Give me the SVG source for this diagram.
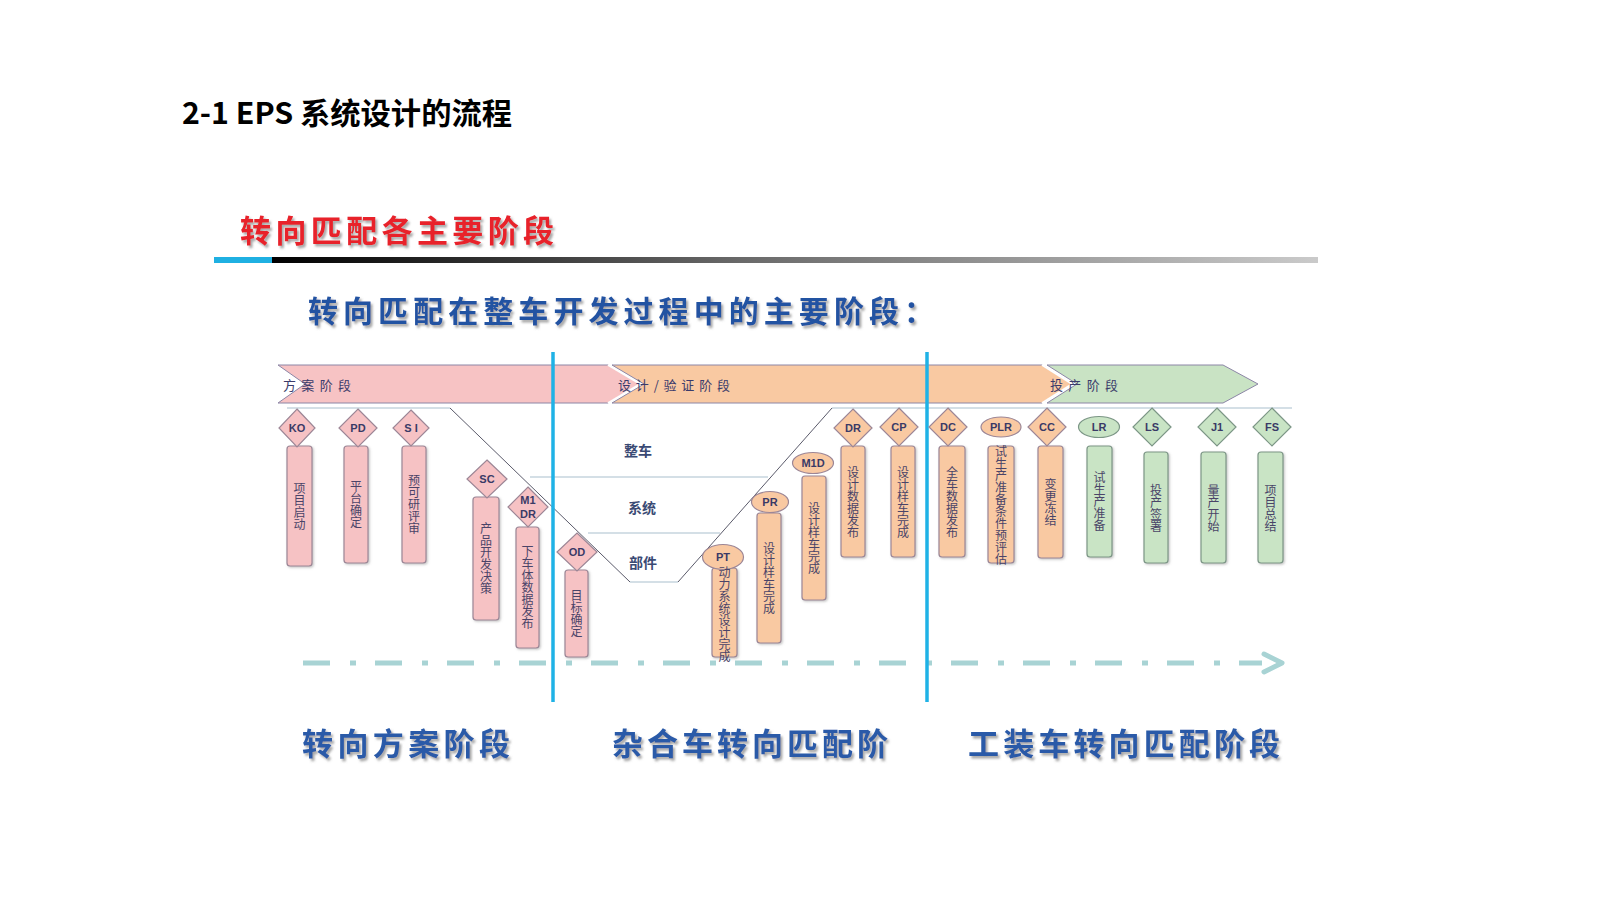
<svg xmlns="http://www.w3.org/2000/svg" width="1600" height="900" viewBox="0 0 1600 900">
<defs>
<linearGradient id="barg" x1="0" y1="0" x2="1" y2="0">
<stop offset="0" stop-color="#000"/>
<stop offset="0.45" stop-color="#6a6a6a"/>
<stop offset="1" stop-color="#cacaca"/>
</linearGradient>
<filter id="sh" x="-5%" y="-20%" width="110%" height="150%">
<feDropShadow dx="2" dy="2.5" stdDeviation="1" flood-color="#777" flood-opacity="0.65"/>
</filter>
<filter id="rs" x="-20%" y="-5%" width="150%" height="115%">
<feDropShadow dx="1.2" dy="1.2" stdDeviation="0.8" flood-color="#888" flood-opacity="0.5"/>
</filter>
</defs>
<style>
.h {font-family:"Noto Sans CJK SC","Noto Sans",sans-serif;font-weight:bold}
.bn {font-family:"Noto Sans CJK SC",sans-serif;font-size:13px;fill:#3b3b6b}
.pk {fill:#f6c2c4;stroke:#9c8696;stroke-width:1.2}
.or {fill:#f9c9a2;stroke:#9c8696;stroke-width:1.2}
.gr {fill:#c9e4c5;stroke:#7c9686;stroke-width:1.2}
.dl {font-family:"Liberation Sans",Arial,sans-serif;font-size:11px;font-weight:bold;fill:#3a3a66;text-anchor:middle;dominant-baseline:central}
.vt {font-family:"Noto Sans CJK SC",sans-serif;font-size:12px;fill:#4a4468;text-anchor:middle;dominant-baseline:central;writing-mode:vertical-rl}
.lv {font-family:"Noto Sans CJK SC",sans-serif;font-size:14px;font-weight:bold;fill:#3a4a74;text-anchor:middle;dominant-baseline:central}
.bl {font-family:"Noto Sans CJK SC",sans-serif;font-size:31px;font-weight:bold;fill:#2a5aa8}
.thin {stroke:#c6d4de;stroke-width:1.5;fill:none}
.dia {stroke:#5a5a6a;stroke-width:1;fill:none}
.vline {stroke:#1fb2e6;stroke-width:3.5}
</style>

<g id="title">
<text class="h" x="182" y="124" font-size="30" fill="#000" textLength="330" lengthAdjust="spacingAndGlyphs">2-1 EPS 系统设计的流程</text>
</g>
<g id="header">
<text class="h" x="240" y="242" font-size="31" fill="#e8202a" filter="url(#sh)" textLength="314" lengthAdjust="spacing">转向匹配各主要阶段</text>
<rect x="214" y="257" width="58" height="6" fill="#1fb0e2"/>
<rect x="272" y="257" width="1046" height="6" fill="url(#barg)"/>
<text class="h" x="308" y="322" font-size="30" fill="#2452a2" filter="url(#sh)" textLength="626" lengthAdjust="spacing">转向匹配在整车开发过程中的主要阶段：</text>
</g>

<g id="banner">
<polygon points="278,365 608,365 640,384 608,403 278,403 305,384" fill="#f7c3c4" stroke="#8c86a6" stroke-width="1"/>
<polygon points="612,365 1042,365 1072,384 1042,403 612,403 644,384" fill="#f9c9a2" stroke="#8c86a6" stroke-width="1"/>
<polyline points="608,365 640,384 608,403" fill="none" stroke="#fff" stroke-width="2"/>
<polygon points="1047,365 1223,365 1258,384 1223,403 1047,403 1077,384" fill="#c9e3c4" stroke="#8c86a6" stroke-width="1"/>
<polyline points="1042,365 1072,384 1042,403" fill="none" stroke="#fff" stroke-width="2"/>
<text class="bn" x="283" y="390" textLength="68" lengthAdjust="spacing">方案阶段</text>
<text class="bn" x="618" y="390" textLength="112" lengthAdjust="spacing">设计/验证阶段</text>
<text class="bn" x="1050" y="390" textLength="68" lengthAdjust="spacing">投产阶段</text>
</g>

<g id="levels">
<line class="thin" x1="287" y1="408" x2="450" y2="408"/>
<line class="thin" x1="832" y1="408" x2="1292" y2="408"/>
<line class="thin" x1="530" y1="477" x2="768" y2="477"/>
<line class="thin" x1="588" y1="533" x2="720" y2="533"/>
<line class="thin" x1="630" y1="582" x2="678" y2="582"/>
<polyline class="dia" points="450,408 630,582"/>
<polyline class="dia" points="678,582 832,408"/>
<text class="lv" x="638" y="450">整车</text>
<text class="lv" x="642" y="507">系统</text>
<text class="lv" x="643" y="562">部件</text>
</g>

<g id="connectors">
<line x1="303" y1="663" x2="1262" y2="663" stroke="#a8d3d4" stroke-width="5" stroke-dasharray="27 20 6 19"/>
<polyline points="1264,654 1282,663 1264,672" fill="none" stroke="#a8d3d4" stroke-width="5" stroke-linejoin="round" stroke-linecap="round"/>
<line class="vline" x1="553" y1="352" x2="553" y2="702"/>
<line class="vline" x1="927" y1="352" x2="927" y2="702"/>
</g>

<g id="n-KO">
<rect class="pk" x="287" y="446" width="25" height="120" rx="3" filter="url(#rs)"/>
<polygon class="pk" points="297,409 315,428 297,447 279,428"/>
<text class="dl" x="297" y="428">KO</text>
<text class="vt" x="299.5" y="506">项目启动</text>
</g>
<g id="n-PD">
<rect class="pk" x="344" y="446" width="24" height="117" rx="3" filter="url(#rs)"/>
<polygon class="pk" points="358,409 377,428 358,447 339,428"/>
<text class="dl" x="358" y="428">PD</text>
<text class="vt" x="356" y="504">平台确定</text>
</g>
<g id="n-SI">
<rect class="pk" x="402" y="446" width="24" height="117" rx="3" filter="url(#rs)"/>
<polygon class="pk" points="411,410 429,428 411,446 393,428"/>
<text class="dl" x="411" y="428">S I</text>
<text class="vt" x="414" y="504">预可研评审</text>
</g>
<g id="n-SC">
<rect class="pk" x="473" y="497" width="26" height="123" rx="3" filter="url(#rs)"/>
<polygon class="pk" points="487,460 507,479 487,498 467,479"/>
<text class="dl" x="487" y="479">SC</text>
<text class="vt" x="486" y="558">产品开发决策</text>
</g>
<g id="n-M1DR">
<rect class="pk" x="516" y="527" width="23" height="121" rx="3" filter="url(#rs)"/>
<polygon class="pk" points="528,487 548,507 528,527 508,507"/>
<text class="dl" x="528" y="500">M1</text>
<text class="dl" x="528" y="514">DR</text>
<text class="vt" x="527.5" y="587">下车体数据发布</text>
</g>
<g id="n-OD">
<rect class="pk" x="565" y="570" width="23" height="87" rx="3" filter="url(#rs)"/>
<polygon class="pk" points="577,533 597,552 577,571 557,552"/>
<text class="dl" x="577" y="552">OD</text>
<text class="vt" x="576.5" y="613">目标确定</text>
</g>
<g id="n-PT">
<rect class="or" x="712" y="568" width="25" height="89" rx="3" filter="url(#rs)"/>
<ellipse class="or" cx="723" cy="557" rx="20.5" ry="12.5"/>
<text class="dl" x="723" y="557" font-weight="normal">PT</text>
<text class="vt" x="724.5" y="614" font-size="11.8">动力系统设计完成</text>
</g>
<g id="n-PR">
<rect class="or" x="757" y="513" width="24" height="130" rx="3" filter="url(#rs)"/>
<ellipse class="or" cx="770" cy="502" rx="18.5" ry="10.5"/>
<text class="dl" x="770" y="502">PR</text>
<text class="vt" x="769" y="578">设计样车完成</text>
</g>
<g id="n-M1D">
<rect class="or" x="802" y="476" width="24" height="124" rx="3" filter="url(#rs)"/>
<ellipse class="or" cx="813" cy="463" rx="20.5" ry="10.5"/>
<text class="dl" x="813" y="463">M1D</text>
<text class="vt" x="814" y="538">设计样车完成</text>
</g>
<g id="n-DR">
<rect class="or" x="841" y="446" width="24" height="111" rx="3" filter="url(#rs)"/>
<polygon class="or" points="853,409 872,428 853,447 834,428"/>
<text class="dl" x="853" y="428">DR</text>
<text class="vt" x="853" y="502">设计数据发布</text>
</g>
<g id="n-CP">
<rect class="or" x="891" y="446" width="24" height="111" rx="3" filter="url(#rs)"/>
<polygon class="or" points="899,408 918,427 899,446 880,427"/>
<text class="dl" x="899" y="427">CP</text>
<text class="vt" x="903" y="502">设计样车完成</text>
</g>
<g id="n-DC">
<rect class="or" x="939" y="446" width="26" height="111" rx="3" filter="url(#rs)"/>
<polygon class="or" points="948,408 967,427 948,446 929,427"/>
<text class="dl" x="948" y="427">DC</text>
<text class="vt" x="952" y="502">全车数据发布</text>
</g>
<g id="n-PLR">
<rect class="or" x="988" y="446" width="26" height="117" rx="3" filter="url(#rs)"/>
<ellipse class="or" cx="1001" cy="427" rx="20" ry="10"/>
<text class="dl" x="1001" y="427">PLR</text>
<text class="vt" x="1001" y="505" font-size="11.8">试生产准备条件预评估</text>
</g>
<g id="n-CC">
<rect class="or" x="1038" y="446" width="25" height="112" rx="3" filter="url(#rs)"/>
<polygon class="or" points="1047,408 1066,427 1047,446 1028,427"/>
<text class="dl" x="1047" y="427">CC</text>
<text class="vt" x="1050.5" y="502">变更冻结</text>
</g>
<g id="n-LR">
<rect class="gr" x="1087" y="446" width="25" height="111" rx="3" filter="url(#rs)"/>
<ellipse class="gr" cx="1099" cy="427" rx="20.5" ry="10.5"/>
<text class="dl" x="1099" y="427">LR</text>
<text class="vt" x="1099.5" y="501" fill="#3a5a98">试生产准备</text>
</g>
<g id="n-LS">
<rect class="gr" x="1144" y="452" width="24" height="111" rx="3" filter="url(#rs)"/>
<polygon class="gr" points="1152,408 1171,427 1152,446 1133,427"/>
<text class="dl" x="1152" y="427">LS</text>
<text class="vt" x="1156" y="508">投产签署</text>
</g>
<g id="n-J1">
<rect class="gr" x="1201" y="452" width="25" height="111" rx="3" filter="url(#rs)"/>
<polygon class="gr" points="1217,408 1236,427 1217,446 1198,427"/>
<text class="dl" x="1217" y="427">J1</text>
<text class="vt" x="1213.5" y="508">量产开始</text>
</g>
<g id="n-FS">
<rect class="gr" x="1258" y="452" width="25" height="111" rx="3" filter="url(#rs)"/>
<polygon class="gr" points="1272,408 1291,427 1272,446 1253,427"/>
<text class="dl" x="1272" y="427">FS</text>
<text class="vt" x="1270.5" y="508">项目总结</text>
</g>

<g id="phases">
<text class="bl" x="302" y="755" filter="url(#sh)" textLength="208" lengthAdjust="spacing">转向方案阶段</text>
<text class="bl" x="612" y="755" filter="url(#sh)" textLength="276" lengthAdjust="spacing">杂合车转向匹配阶</text>
<text class="bl" x="968" y="755" filter="url(#sh)" textLength="312" lengthAdjust="spacing">工装车转向匹配阶段</text>
</g>
</svg>
